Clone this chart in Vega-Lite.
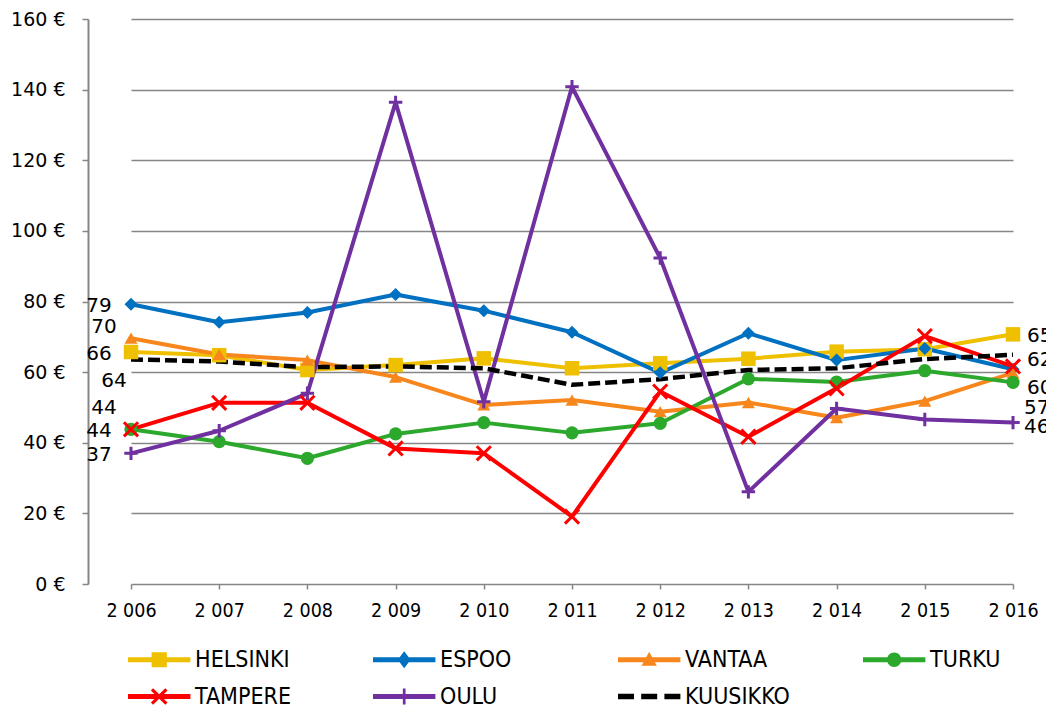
{
  "$schema": "https://vega.github.io/schema/vega-lite/v6.json",
  "autosize": {"type": "none"},
  "width": 958,
  "height": 565,
  "padding": {"left": 88, "top": 19, "right": 0, "bottom": 125},
  "background": "white",
  "datasets": {
    "d": [
      {"series": "HELSINKI", "year": "2 006", "value": 65.7},
      {"series": "HELSINKI", "year": "2 007", "value": 64.8},
      {"series": "HELSINKI", "year": "2 008", "value": 60.6},
      {"series": "HELSINKI", "year": "2 009", "value": 62.0},
      {"series": "HELSINKI", "year": "2 010", "value": 63.9},
      {"series": "HELSINKI", "year": "2 011", "value": 61.1},
      {"series": "HELSINKI", "year": "2 012", "value": 62.5},
      {"series": "HELSINKI", "year": "2 013", "value": 63.8},
      {"series": "HELSINKI", "year": "2 014", "value": 65.8},
      {"series": "HELSINKI", "year": "2 015", "value": 66.5},
      {"series": "HELSINKI", "year": "2 016", "value": 70.7},
      {"series": "ESPOO", "year": "2 006", "value": 79.2},
      {"series": "ESPOO", "year": "2 007", "value": 74.1},
      {"series": "ESPOO", "year": "2 008", "value": 76.9},
      {"series": "ESPOO", "year": "2 009", "value": 82.0},
      {"series": "ESPOO", "year": "2 010", "value": 77.4},
      {"series": "ESPOO", "year": "2 011", "value": 71.3},
      {"series": "ESPOO", "year": "2 012", "value": 59.8},
      {"series": "ESPOO", "year": "2 013", "value": 71.0},
      {"series": "ESPOO", "year": "2 014", "value": 63.4},
      {"series": "ESPOO", "year": "2 015", "value": 66.7},
      {"series": "ESPOO", "year": "2 016", "value": 60.8},
      {"series": "VANTAA", "year": "2 006", "value": 69.6},
      {"series": "VANTAA", "year": "2 007", "value": 65.0},
      {"series": "VANTAA", "year": "2 008", "value": 63.4},
      {"series": "VANTAA", "year": "2 009", "value": 58.6},
      {"series": "VANTAA", "year": "2 010", "value": 50.7},
      {"series": "VANTAA", "year": "2 011", "value": 52.1},
      {"series": "VANTAA", "year": "2 012", "value": 48.8},
      {"series": "VANTAA", "year": "2 013", "value": 51.4},
      {"series": "VANTAA", "year": "2 014", "value": 47.1},
      {"series": "VANTAA", "year": "2 015", "value": 51.8},
      {"series": "VANTAA", "year": "2 016", "value": 59.8},
      {"series": "TURKU", "year": "2 006", "value": 43.8},
      {"series": "TURKU", "year": "2 007", "value": 40.3},
      {"series": "TURKU", "year": "2 008", "value": 35.6},
      {"series": "TURKU", "year": "2 009", "value": 42.5},
      {"series": "TURKU", "year": "2 010", "value": 45.7},
      {"series": "TURKU", "year": "2 011", "value": 42.8},
      {"series": "TURKU", "year": "2 012", "value": 45.5},
      {"series": "TURKU", "year": "2 013", "value": 58.1},
      {"series": "TURKU", "year": "2 014", "value": 57.2},
      {"series": "TURKU", "year": "2 015", "value": 60.4},
      {"series": "TURKU", "year": "2 016", "value": 57.1},
      {"series": "TAMPERE", "year": "2 006", "value": 43.8},
      {"series": "TAMPERE", "year": "2 007", "value": 51.3},
      {"series": "TAMPERE", "year": "2 008", "value": 51.3},
      {"series": "TAMPERE", "year": "2 009", "value": 38.4},
      {"series": "TAMPERE", "year": "2 010", "value": 37.0},
      {"series": "TAMPERE", "year": "2 011", "value": 19.1},
      {"series": "TAMPERE", "year": "2 012", "value": 54.5},
      {"series": "TAMPERE", "year": "2 013", "value": 41.7},
      {"series": "TAMPERE", "year": "2 014", "value": 55.4},
      {"series": "TAMPERE", "year": "2 015", "value": 70.2},
      {"series": "TAMPERE", "year": "2 016", "value": 61.6},
      {"series": "OULU", "year": "2 006", "value": 37.0},
      {"series": "OULU", "year": "2 007", "value": 43.4},
      {"series": "OULU", "year": "2 008", "value": 54.0},
      {"series": "OULU", "year": "2 009", "value": 136.4},
      {"series": "OULU", "year": "2 010", "value": 51.6},
      {"series": "OULU", "year": "2 011", "value": 140.8},
      {"series": "OULU", "year": "2 012", "value": 92.3},
      {"series": "OULU", "year": "2 013", "value": 26.1},
      {"series": "OULU", "year": "2 014", "value": 49.7},
      {"series": "OULU", "year": "2 015", "value": 46.6},
      {"series": "OULU", "year": "2 016", "value": 45.7},
      {"series": "KUUSIKKO", "year": "2 006", "value": 63.6},
      {"series": "KUUSIKKO", "year": "2 007", "value": 63.0},
      {"series": "KUUSIKKO", "year": "2 008", "value": 61.4},
      {"series": "KUUSIKKO", "year": "2 009", "value": 61.6},
      {"series": "KUUSIKKO", "year": "2 010", "value": 61.1},
      {"series": "KUUSIKKO", "year": "2 011", "value": 56.4},
      {"series": "KUUSIKKO", "year": "2 012", "value": 58.0},
      {"series": "KUUSIKKO", "year": "2 013", "value": 60.6},
      {"series": "KUUSIKKO", "year": "2 014", "value": 61.1},
      {"series": "KUUSIKKO", "year": "2 015", "value": 63.7},
      {"series": "KUUSIKKO", "year": "2 016", "value": 64.9}
    ]
  },
  "data": {"name": "d"},
  "encoding": {
    "x": {
      "field": "year", "type": "ordinal", "title": null,
      "scale": {"type": "point", "range": [43, 925], "padding": 0},
      "axis": {
        "domain": false, "grid": false, "labelAngle": 0,
        "ticks": true, "tickSize": 5, "tickColor": "#868686", "tickWidth": 1.5,
        "labelPadding": 12,
        "labelFont": "Liberation Sans Narrow, DejaVu Sans Condensed, sans-serif",
        "labelFontSize": 19.5, "labelColor": "#000000"
      }
    },
    "y": {
      "field": "value", "type": "quantitative", "title": null,
      "scale": {"domain": [0, 160], "nice": false, "zero": true},
      "axis": {
        "values": [0, 20, 40, 60, 80, 100, 120, 140, 160],
        "labelExpr": "datum.value + ' €'",
        "grid": true, "gridColor": "#868686", "gridWidth": 1.5,
        "domain": true, "domainColor": "#868686", "domainWidth": 2,
        "ticks": true, "tickSize": 6, "tickColor": "#868686", "tickWidth": 1.5,
        "labelPadding": 17,
        "labelFont": "DejaVu Sans", "labelFontSize": 19, "labelColor": "#000000"
      }
    }
  },
  "layer": [
    {
      "transform": [{"filter": "datum.series != 'KUUSIKKO'"}],
      "mark": {"type": "line", "strokeWidth": 4, "strokeJoin": "round", "strokeCap": "round"},
      "encoding": {
        "stroke": {
          "field": "series", "type": "nominal", "legend": null,
          "scale": {
            "domain": ["HELSINKI", "ESPOO", "VANTAA", "TURKU", "TAMPERE", "OULU"],
            "range": ["#EEC000", "#0070C0", "#F7871C", "#2CA82C", "#FF0000", "#7030A0"]
          }
        }
      }
    },
    {
      "transform": [{"filter": "datum.series == 'KUUSIKKO'"}],
      "mark": {"type": "line", "strokeWidth": 4.5, "strokeDash": [12, 5], "color": "#000000"},
      "encoding": {}
    },
    {
      "transform": [{"filter": "datum.series == 'HELSINKI'"}],
      "mark": {"type": "point", "shape": "square", "filled": true, "opacity": 1, "size": 210, "color": "#EEC000"}
    },
    {
      "transform": [{"filter": "datum.series == 'ESPOO'"}],
      "mark": {"type": "point", "shape": "diamond", "filled": true, "opacity": 1, "size": 170, "color": "#0070C0"}
    },
    {
      "transform": [{"filter": "datum.series == 'VANTAA'"}],
      "mark": {"type": "point", "shape": "triangle-up", "filled": true, "opacity": 1, "size": 170, "color": "#F7871C"}
    },
    {
      "transform": [{"filter": "datum.series == 'TURKU'"}],
      "mark": {"type": "point", "shape": "circle", "filled": true, "opacity": 1, "size": 175, "color": "#2CA82C"}
    },
    {
      "transform": [{"filter": "datum.series == 'TAMPERE'"}],
      "mark": {"type": "point", "shape": "M-1,-1L1,1M-1,1L1,-1", "filled": false, "opacity": 1, "strokeWidth": 3, "size": 200, "color": "#FF0000"}
    },
    {
      "transform": [{"filter": "datum.series == 'OULU'"}],
      "mark": {"type": "point", "shape": "M-1,0H1M0,-1V1", "filled": false, "opacity": 1, "strokeWidth": 3, "size": 180, "color": "#7030A0"}
    },
    {
      "mark": {"type": "point", "filled": true, "opacity": 0, "size": 1},
      "encoding": {
        "color": {
          "field": "series", "type": "nominal", "title": null,
          "scale": {
            "domain": ["HELSINKI", "ESPOO", "VANTAA", "TURKU", "TAMPERE", "OULU", "KUUSIKKO"],
            "range": ["#EEC000", "#0070C0", "#F7871C", "#2CA82C", "#FF0000", "#7030A0", "#000000"]
          },
          "legend": {
            "orient": "none", "legendX": 40, "legendY": 629, "direction": "horizontal",
            "columns": 4, "gridAlign": "all", "columnPadding": 73, "rowPadding": 13, "padding": 0,
            "symbolSize": 256, "symbolOffset": 19.7, "labelOffset": 24.4,
            "symbolStrokeWidth": 0, "symbolOpacity": 1,
            "labelFont": "Liberation Sans Narrow, DejaVu Sans Condensed, sans-serif",
            "labelFontSize": 23, "labelColor": "#000000", "labelLimit": 300
          }
        },
        "shape": {
          "field": "series", "type": "nominal", "title": null,
          "legend": {
            "orient": "none", "legendX": 40, "legendY": 629, "direction": "horizontal",
            "columns": 4, "gridAlign": "all", "columnPadding": 73, "rowPadding": 13, "padding": 0,
            "symbolSize": 256, "symbolOffset": 19.7, "labelOffset": 24.4,
            "symbolStrokeWidth": 0, "symbolOpacity": 1,
            "labelFont": "Liberation Sans Narrow, DejaVu Sans Condensed, sans-serif",
            "labelFontSize": 23, "labelColor": "#000000", "labelLimit": 300
          },
          "scale": {
            "domain": ["HELSINKI", "ESPOO", "VANTAA", "TURKU", "TAMPERE", "OULU", "KUUSIKKO"],
            "range": [
              "M-3.9,-0.3H3.9V0.3H-3.9ZM-0.95,-0.95H0.95V0.95H-0.95Z",
              "M-3.9,-0.3H3.9V0.3H-3.9ZM0,-1.05L0.8,0L0,1.05L-0.8,0Z",
              "M-3.9,-0.3H3.9V0.3H-3.9ZM0,-1L0.95,0.75H-0.95Z",
              "M-3.9,-0.3H3.9V0.3H-3.9ZM-0.9,0A0.9,0.9,0,1,1,0.9,0A0.9,0.9,0,1,1,-0.9,0Z",
              "M-3.9,-0.3H3.9V0.3H-3.9ZM-0.76,-1.04L1.04,0.76L0.76,1.04L-1.04,-0.76ZM-1.04,0.76L0.76,-1.04L1.04,-0.76L-0.76,1.04Z",
              "M-3.9,-0.3H3.9V0.3H-3.9ZM-0.17,-1H0.17V1H-0.17Z",
              "M-3.9,-0.35H-1.9V0.35H-3.9ZM-1,-0.35H1V0.35H-1ZM1.9,-0.35H3.9V0.35H1.9Z"
            ]
          }
        }
      }
    },
    {
      "transform": [{"filter": "datum.year == '2 006' && (datum.series == 'ESPOO' || datum.series == 'HELSINKI' || datum.series == 'TURKU' || datum.series == 'OULU')"}],
      "mark": {"type": "text", "font": "DejaVu Sans", "fontSize": 20, "align": "center", "baseline": "middle", "dx": -32, "dy": 2, "color": "#000000"},
      "encoding": {"text": {"field": "value", "type": "quantitative", "format": ".0f"}}
    },
    {
      "transform": [{"filter": "datum.year == '2 006' && datum.series == 'VANTAA'"}],
      "mark": {"type": "text", "font": "DejaVu Sans", "fontSize": 20, "align": "center", "baseline": "middle", "dx": -27, "dy": -11, "color": "#000000"},
      "encoding": {"text": {"field": "value", "type": "quantitative", "format": ".0f"}}
    },
    {
      "transform": [{"filter": "datum.year == '2 006' && datum.series == 'KUUSIKKO'"}],
      "mark": {"type": "text", "font": "DejaVu Sans", "fontSize": 20, "align": "center", "baseline": "middle", "dx": -17, "dy": 22, "color": "#000000"},
      "encoding": {"text": {"field": "value", "type": "quantitative", "format": ".0f"}}
    },
    {
      "transform": [{"filter": "datum.year == '2 006' && datum.series == 'TAMPERE'"}],
      "mark": {"type": "text", "font": "DejaVu Sans", "fontSize": 20, "align": "center", "baseline": "middle", "dx": -27, "dy": -21, "color": "#000000"},
      "encoding": {"text": {"field": "value", "type": "quantitative", "format": ".0f"}}
    },
    {
      "transform": [{"filter": "datum.year == '2 016' && datum.series == 'KUUSIKKO'"}],
      "mark": {"type": "text", "font": "DejaVu Sans", "fontSize": 20, "align": "left", "baseline": "middle", "dx": 14, "dy": -19, "color": "#000000"},
      "encoding": {"text": {"field": "value", "type": "quantitative", "format": ".0f"}}
    },
    {
      "transform": [{"filter": "datum.year == '2 016' && datum.series == 'TAMPERE'"}],
      "mark": {"type": "text", "font": "DejaVu Sans", "fontSize": 20, "align": "left", "baseline": "middle", "dx": 14, "dy": -6, "color": "#000000"},
      "encoding": {"text": {"field": "value", "type": "quantitative", "format": ".0f"}}
    },
    {
      "transform": [{"filter": "datum.year == '2 016' && datum.series == 'VANTAA'"}],
      "mark": {"type": "text", "font": "DejaVu Sans", "fontSize": 20, "align": "left", "baseline": "middle", "dx": 14, "dy": 15, "color": "#000000"},
      "encoding": {"text": {"field": "value", "type": "quantitative", "format": ".0f"}}
    },
    {
      "transform": [{"filter": "datum.year == '2 016' && datum.series == 'TURKU'"}],
      "mark": {"type": "text", "font": "DejaVu Sans", "fontSize": 20, "align": "left", "baseline": "middle", "dx": 11, "dy": 26, "color": "#000000"},
      "encoding": {"text": {"field": "value", "type": "quantitative", "format": ".0f"}}
    },
    {
      "transform": [{"filter": "datum.year == '2 016' && datum.series == 'OULU'"}],
      "mark": {"type": "text", "font": "DejaVu Sans", "fontSize": 20, "align": "left", "baseline": "middle", "dx": 11, "dy": 4, "color": "#000000"},
      "encoding": {"text": {"field": "value", "type": "quantitative", "format": ".0f"}}
    }
  ],
  "config": {
    "view": {"stroke": null}
  }
}
